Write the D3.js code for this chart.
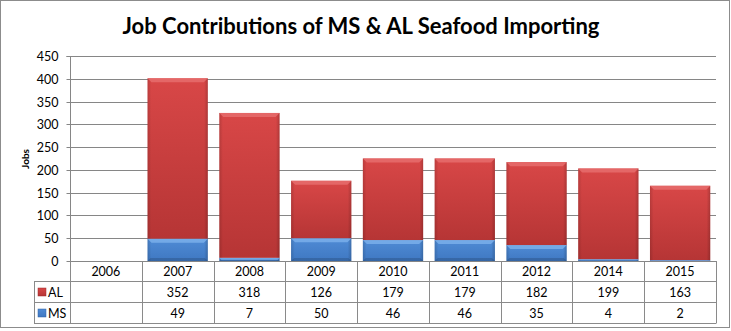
<!DOCTYPE html>
<html><head><meta charset="utf-8">
<script src="https://cdn.jsdelivr.net/npm/d3@7"></script>
<style>body{margin:0;background:#fff}svg{display:block}</style>
</head><body>
<script>
const categories = ["2006","2007","2008","2009","2010","2011","2012","2014","2015"];
const AL = [null,352,318,126,179,179,182,199,163];
const MS = [null,49,7,50,46,46,35,4,2];
const yTicks = [0,50,100,150,200,250,300,350,400,450];
const seriesNames = ["AL","MS"];

(function(){
const W=731,H=331;
const pL=70,pR=716,pT=56,pB=261;
const svg=d3.select("body").append("svg").attr("width",W).attr("height",H);
const defs=svg.append("defs");
function vgrad(id,c0,c1){
  const g=defs.append("linearGradient").attr("id",id).attr("x1",0).attr("x2",0).attr("y1",0).attr("y2",1);
  g.append("stop").attr("offset","0%").attr("stop-color",c0);
  g.append("stop").attr("offset","100%").attr("stop-color",c1);
}
function hgrad(id){
  const g=defs.append("linearGradient").attr("id",id).attr("x1",0).attr("x2",1).attr("y1",0).attr("y2",0);
  g.append("stop").attr("offset","0%").attr("stop-color","#000").attr("stop-opacity",0.14);
  g.append("stop").attr("offset","6%").attr("stop-color","#000").attr("stop-opacity",0);
  g.append("stop").attr("offset","94%").attr("stop-color","#000").attr("stop-opacity",0);
  g.append("stop").attr("offset","100%").attr("stop-color","#000").attr("stop-opacity",0.18);
}
vgrad("gAL","#d84747","#b63535");
vgrad("gMS","#4f8bd5","#3f78c2");
hgrad("gSide");
const col={AL:"url(#gAL)",MS:"url(#gMS)"};
const hi={AL:"#e56a6a",MS:"#78ade9"};

svg.append("rect").attr("x",0.5).attr("y",0.5).attr("width",W-2).attr("height",H-4)
  .attr("fill","#fff").attr("stroke","#8c8c8c");

svg.append("text").attr("x",361).attr("y",34).attr("text-anchor","middle")
  .attr("font-family","Lato, 'Open Sans', sans-serif").attr("font-weight","bold").attr("font-size",22)
  .attr("fill","#000").text("Job Contributions of MS & AL Seafood Importing");

const x=d3.scaleBand().domain(categories).range([pL,pR]).paddingInner(0.16).paddingOuter(0.08);
const xb=d3.scaleBand().domain(categories).range([pL,pR]);
const y=d3.scaleLinear().domain([0,450]).range([pB,pT]);

svg.append("g").selectAll("line").data(yTicks.filter(d=>d>0)).join("line")
  .attr("x1",pL).attr("x2",pR).attr("y1",d=>Math.round(y(d))+0.5).attr("y2",d=>Math.round(y(d))+0.5)
  .attr("stroke","#868686");

const ya=svg.append("g").attr("transform",`translate(${pL+0.5},0.5)`)
  .call(d3.axisLeft(y).tickValues(yTicks).tickSize(4).tickPadding(8));
ya.select(".domain").attr("stroke","#868686").attr("d",`M-4,${y(450)}H0V${y(0)}`);
ya.selectAll(".tick line").attr("stroke","#868686");
ya.selectAll(".tick text").attr("font-family","Lato, 'Open Sans', sans-serif").attr("font-size",12.5).attr("fill","#000");
ya.selectAll(".tick").attr("transform",d=>`translate(0,${Math.round(y(d))})`);

svg.append("text").attr("transform","translate(29,159) rotate(-90)").attr("text-anchor","middle")
  .attr("font-family","Lato, 'Open Sans', sans-serif").attr("font-weight","bold").attr("font-size",10).text("Jobs");

const stackData=categories.map((c,i)=>({cat:c,MS:MS[i]||0,AL:AL[i]||0}));
const stack=d3.stack().keys(["MS","AL"])(stackData);
const bw=x.bandwidth(), bev=4;
stack.forEach(s=>{
  const k=s.key;
  const g=svg.append("g");
  s.forEach(d=>{
    if(d[1]-d[0]<=0) return;
    const x0=x(d.data.cat), y0=y(d[1]), y1=y(d[0]);
    const h=y1-y0;
    g.append("rect").attr("x",x0).attr("y",y0).attr("width",bw).attr("height",h).attr("fill",col[k]);
    g.append("rect").attr("x",x0).attr("y",y0).attr("width",bw).attr("height",h).attr("fill","url(#gSide)");
    const b=Math.min(bev,h*0.6);
    g.append("path").attr("d",`M${x0},${y0}H${x0+bw}L${x0+bw-b},${y0+b}H${x0+b}Z`).attr("fill",hi[k]).attr("opacity",0.9);
    if(d[0]===0){
      const bb=Math.min(3,h/3);
      g.append("path").attr("d",`M${x0},${y1}H${x0+bw}L${x0+bw-bb},${y1-bb}H${x0+bb}Z`).attr("fill","#000").attr("opacity",0.15);
    }
  });
});

svg.append("line").attr("x1",pL).attr("x2",pR).attr("y1",pB+0.5).attr("y2",pB+0.5).attr("stroke","#868686");

const t0=pB, t1=t0+20, t2=t1+21, t3=t2+21;
const tl=34;
const tg=svg.append("g").attr("stroke","#8a8a8a").attr("fill","none");
[t1,t2,t3].forEach(yy=>tg.append("line").attr("x1",tl).attr("x2",pR).attr("y1",yy+0.5).attr("y2",yy+0.5));
tg.append("line").attr("x1",tl+0.5).attr("x2",tl+0.5).attr("y1",t1).attr("y2",t3+0.5);
categories.forEach(c=>tg.append("line").attr("x1",Math.round(xb(c))+0.5).attr("x2",Math.round(xb(c))+0.5).attr("y1",t0).attr("y2",t3+0.5));
tg.append("line").attr("x1",pR+0.5).attr("x2",pR+0.5).attr("y1",t0).attr("y2",t3+0.5);

const tf="Lato, 'Open Sans', sans-serif", ts=12.5;
const txt=svg.append("g").attr("font-family",tf).attr("font-size",ts).attr("fill","#000").attr("text-anchor","middle");
categories.forEach((c,i)=>{
  const cx=xb(c)+xb.bandwidth()/2;
  txt.append("text").attr("x",cx).attr("y",t0+15).text(c);
  if(AL[i]!=null) txt.append("text").attr("x",cx).attr("y",t1+15.5).text(AL[i]);
  if(MS[i]!=null) txt.append("text").attr("x",cx).attr("y",t2+15.5).text(MS[i]);
});
seriesNames.forEach((n,j)=>{
  const yy=(j===0?t1:t2);
  svg.append("rect").attr("x",38).attr("y",yy+7).attr("width",8).attr("height",8).attr("fill",col[n]).attr("stroke",j===0?"#9a2a2a":"#2f62a4").attr("stroke-width",0.5);
  svg.append("text").attr("x",48).attr("y",yy+15.5).attr("font-family",tf).attr("font-size",ts).text(n);
});
})();
</script>
</body></html>
